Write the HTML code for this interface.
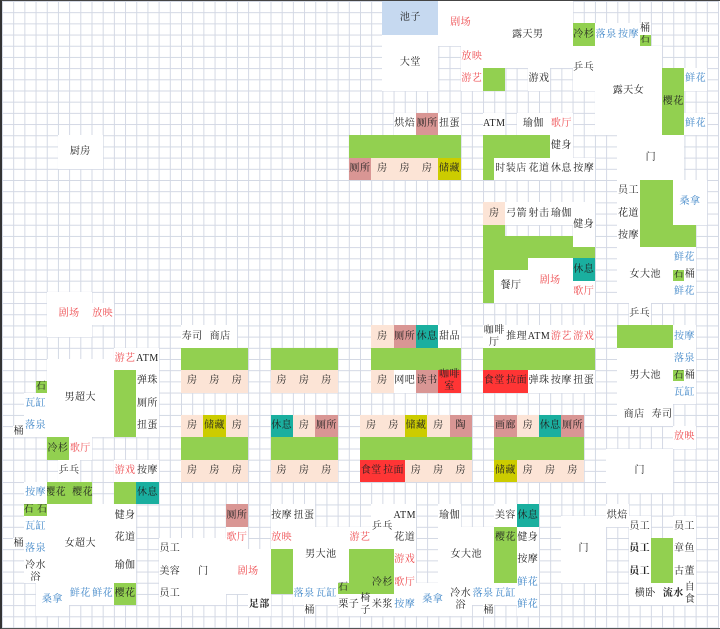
<!DOCTYPE html>
<html><head><meta charset="utf-8">
<style>
html,body{margin:0;padding:0;background:#fff;}
body{width:720px;height:629px;position:relative;overflow:hidden;}
.frame{position:absolute;left:0;top:0;width:718px;height:627px;border-top:1px solid #444;border-left:2px solid #333;border-bottom:1px solid #555;}
.g{position:absolute;left:2px;top:1px;width:716.8px;height:627.2px;display:grid;
grid-template-columns:repeat(64,11.2px);grid-template-rows:repeat(56,11.2px);
background-image:linear-gradient(to right,#d3d8e4 1px,transparent 1px),linear-gradient(to bottom,#d3d8e4 1px,transparent 1px);
background-size:11.2px 11.2px;}
.g>div{display:flex;align-items:center;justify-content:center;background:#fff;
font-family:"Liberation Serif","Noto Serif CJK SC",serif;font-size:10px;letter-spacing:0.5px;line-height:12px;color:#222;text-align:center;white-space:nowrap;overflow:visible;}
.g>div.G{background:#92d050}
.g>div.P{background:#fce4d6}
.g>div.R{background:#d99694}
.g>div.Y{background:#cccc00}
.g>div.T{background:#1aaf9f}
.g>div.D{background:#ff3535}
.g>div.B{background:#c6d9f0}
.g>div.t{background:transparent}
.r{color:#ee4b4f!important}
.b{color:#3f86c8!important}
.k{font-weight:bold}
</style></head><body>
<div class="frame"></div>
<div class="g">
<div style="grid-area:4/35/span 5/span 5">大堂</div>
<div class="r" style="grid-area:1/40/span 4/span 4">剧场</div>
<div style="grid-area:1/44/span 6/span 8">露天男</div>
<div style="grid-area:5/54/span 8/span 6">露天女</div>
<div style="grid-area:13/56/span 4/span 6">门</div>
<div style="grid-area:23/56/span 5/span 5">女大池</div>
<div style="grid-area:32/56/span 5/span 5">男大池</div>
<div style="grid-area:41/55/span 4/span 6">门</div>
<div style="grid-area:13/6/span 3/span 4">厨房</div>
<div class="r" style="grid-area:27/5/span 4/span 4">剧场</div>
<div style="grid-area:33/5/span 7/span 6">男超大</div>
<div style="grid-area:46/5/span 7/span 6">女超大</div>
<div style="grid-area:49/17/span 6/span 4">门</div>
<div class="r" style="grid-area:50/21/span 4/span 4">剧场</div>
<div style="grid-area:48/27/span 5/span 5">男大池</div>
<div style="grid-area:48/40/span 5/span 5">女大池</div>
<div style="grid-area:47/51/span 6/span 4">门</div>
<div style="grid-area:25/45/span 3/span 3">餐厅</div>
<div class="r" style="grid-area:24/48/span 4/span 4">剧场</div>
<div style="grid-area:5/52/span 4/span 2">乒乓</div>
<div style="grid-area:46/34/span 4/span 2">乒乓</div>

<div class="B" style="grid-area:1/35/span 3/span 5">池子</div>

<div class="G" style="grid-area:7/44/span 2/span 2"></div>
<div class="G" style="grid-area:3/52/span 2/span 2">冷杉</div>
<div class="G" style="grid-area:4/58/span 1/span 1">石</div>
<div class="G" style="grid-area:7/60/span 6/span 2">樱花</div>
<div class="G" style="grid-area:13/32/span 2/span 10"></div>
<div class="G" style="grid-area:13/44/span 2/span 6"></div>
<div class="G" style="grid-area:15/44/span 2/span 1"></div>
<div class="G" style="grid-area:17/58/span 6/span 3"></div>
<div class="G" style="grid-area:21/61/span 2/span 2"></div>
<div class="G" style="grid-area:21/44/span 1/span 2"></div>
<div class="G" style="grid-area:22/44/span 2/span 10"></div>
<div class="G" style="grid-area:24/44/span 1/span 4"></div>
<div class="G" style="grid-area:25/44/span 3/span 1"></div>
<div class="G" style="grid-area:25/61/span 1/span 1">石</div>
<div class="G" style="grid-area:32/17/span 2/span 6"></div>
<div class="G" style="grid-area:40/17/span 2/span 6"></div>
<div class="G" style="grid-area:32/25/span 2/span 6"></div>
<div class="G" style="grid-area:40/25/span 2/span 6"></div>
<div class="G" style="grid-area:32/34/span 2/span 8"></div>
<div class="G" style="grid-area:32/44/span 2/span 10"></div>
<div class="G" style="grid-area:40/33/span 2/span 10"></div>
<div class="G" style="grid-area:40/45/span 2/span 8"></div>
<div class="G" style="grid-area:30/56/span 2/span 5"></div>
<div class="G" style="grid-area:34/61/span 1/span 1">石</div>
<div class="G" style="grid-area:34/11/span 6/span 2"></div>
<div class="G" style="grid-area:35/4/span 1/span 1">石</div>
<div class="G" style="grid-area:40/5/span 2/span 2">冷杉</div>
<div class="G" style="grid-area:44/5/span 2/span 4">樱花&nbsp;&nbsp;樱花</div>
<div class="G" style="grid-area:44/11/span 2/span 2"></div>
<div class="G" style="grid-area:46/3/span 1/span 2">石 石</div>
<div class="G" style="grid-area:53/11/span 2/span 2">樱花</div>
<div class="G" style="grid-area:50/25/span 4/span 2"></div>
<div class="G" style="grid-area:50/32/span 4/span 4"></div>
<div class="G" style="grid-area:53/31/span 1/span 1">石</div>
<div class="G" style="grid-area:48/45/span 5/span 2"></div>
<div class="G" style="grid-area:49/59/span 4/span 2"></div>
<div class="t" style="grid-area:52/34/span 2/span 2">冷杉</div>
<div class="t" style="grid-area:48/45/span 2/span 2">樱花</div>

<div class="R" style="grid-area:15/32/span 2/span 2">厕所</div>
<div class="P" style="grid-area:15/34/span 2/span 2">房</div>
<div class="P" style="grid-area:15/36/span 2/span 2">房</div>
<div class="P" style="grid-area:15/38/span 2/span 2">房</div>
<div class="Y" style="grid-area:15/40/span 2/span 2">储藏</div>

<div class="P" style="grid-area:34/17/span 2/span 2">房</div>
<div class="P" style="grid-area:34/19/span 2/span 2">房</div>
<div class="P" style="grid-area:34/21/span 2/span 2">房</div>
<div class="P" style="grid-area:38/17/span 2/span 2">房</div>
<div class="Y" style="grid-area:38/19/span 2/span 2">储藏</div>
<div class="P" style="grid-area:38/21/span 2/span 2">房</div>
<div class="P" style="grid-area:42/17/span 2/span 2">房</div>
<div class="P" style="grid-area:42/19/span 2/span 2">房</div>
<div class="P" style="grid-area:42/21/span 2/span 2">房</div>

<div class="P" style="grid-area:34/25/span 2/span 2">房</div>
<div class="P" style="grid-area:34/27/span 2/span 2">房</div>
<div class="P" style="grid-area:34/29/span 2/span 2">房</div>
<div class="T" style="grid-area:38/25/span 2/span 2">休息</div>
<div class="P" style="grid-area:38/27/span 2/span 2">房</div>
<div class="R" style="grid-area:38/29/span 2/span 2">厕所</div>
<div class="P" style="grid-area:42/25/span 2/span 2">房</div>
<div class="P" style="grid-area:42/27/span 2/span 2">房</div>
<div class="P" style="grid-area:42/29/span 2/span 2">房</div>

<div class="P" style="grid-area:30/34/span 2/span 2">房</div>
<div class="R" style="grid-area:30/36/span 2/span 2">厕所</div>
<div class="T" style="grid-area:30/38/span 2/span 2">休息</div>
<div style="grid-area:30/40/span 2/span 2">甜品</div>
<div class="P" style="grid-area:34/34/span 2/span 2">房</div>
<div style="grid-area:34/36/span 2/span 2">网吧</div>
<div class="R" style="grid-area:34/38/span 2/span 2">读书</div>
<div class="D" style="grid-area:34/40/span 2/span 2">咖啡<br>室</div>

<div style="grid-area:30/44/span 2/span 2">咖啡<br>厅</div>
<div style="grid-area:30/46/span 2/span 2">推理</div>
<div style="grid-area:30/48/span 2/span 2">ATM</div>
<div class="r" style="grid-area:30/50/span 2/span 2">游艺</div>
<div class="r" style="grid-area:30/52/span 2/span 2">游戏</div>
<div class="D" style="grid-area:34/44/span 2/span 2">食堂</div>
<div class="D" style="grid-area:34/46/span 2/span 2">拉面</div>
<div style="grid-area:34/48/span 2/span 2">弹珠</div>
<div style="grid-area:34/50/span 2/span 2">按摩</div>
<div style="grid-area:34/52/span 2/span 2">扭蛋</div>

<div class="P" style="grid-area:38/33/span 2/span 2">房</div>
<div class="P" style="grid-area:38/35/span 2/span 2">房</div>
<div class="Y" style="grid-area:38/37/span 2/span 2">储藏</div>
<div class="P" style="grid-area:38/39/span 2/span 2">房</div>
<div class="R" style="grid-area:38/41/span 2/span 2">陶</div>
<div class="D" style="grid-area:42/33/span 2/span 2">食堂</div>
<div class="D" style="grid-area:42/35/span 2/span 2">拉面</div>
<div class="P" style="grid-area:42/37/span 2/span 2">房</div>
<div class="P" style="grid-area:42/39/span 2/span 2">房</div>
<div class="P" style="grid-area:42/41/span 2/span 2">房</div>

<div class="R" style="grid-area:38/45/span 2/span 2">画廊</div>
<div class="P" style="grid-area:38/47/span 2/span 2">房</div>
<div class="T" style="grid-area:38/49/span 2/span 2">休息</div>
<div class="R" style="grid-area:38/51/span 2/span 2">厕所</div>
<div class="Y" style="grid-area:42/45/span 2/span 2">储藏</div>
<div class="P" style="grid-area:42/47/span 2/span 2">房</div>
<div class="P" style="grid-area:42/49/span 2/span 2">房</div>
<div class="P" style="grid-area:42/51/span 2/span 2">房</div>

<div class="R" style="grid-area:11/38/span 2/span 2">厕所</div>
<div class="R" style="grid-area:46/21/span 2/span 2">厕所</div>
<div class="P" style="grid-area:19/44/span 2/span 2">房</div>
<div class="T" style="grid-area:24/52/span 2/span 2">休息</div>
<div class="T" style="grid-area:44/13/span 2/span 2">休息</div>
<div class="T" style="grid-area:46/47/span 2/span 2">休息</div>

<div class="r" style="grid-area:5/42/span 2/span 2">放映</div>
<div class="r" style="grid-area:7/42/span 2/span 2">游艺</div>
<div style="grid-area:7/48/span 2/span 2">游戏</div>
<div class="b" style="grid-area:3/54/span 2/span 2">落泉</div>
<div class="b" style="grid-area:3/56/span 2/span 2">按摩</div>
<div style="grid-area:3/58/span 1/span 1">桶</div>
<div style="grid-area:11/36/span 2/span 2">烘焙</div>
<div style="grid-area:11/40/span 2/span 2">扭蛋</div>
<div style="grid-area:11/44/span 2/span 2">ATM</div>
<div style="grid-area:11/47/span 2/span 3">瑜伽</div>
<div class="r" style="grid-area:11/50/span 2/span 2">歌厅</div>
<div style="grid-area:13/50/span 2/span 2">健身</div>
<div style="grid-area:15/45/span 2/span 3">时装店</div>
<div style="grid-area:15/48/span 2/span 2">花道</div>
<div style="grid-area:15/50/span 2/span 2">休息</div>
<div style="grid-area:15/52/span 2/span 2">按摩</div>
<div class="b" style="grid-area:7/62/span 2/span 2">鲜花</div>
<div class="b" style="grid-area:11/62/span 2/span 2">鲜花</div>
<div style="grid-area:17/56/span 2/span 2">员工</div>
<div style="grid-area:19/56/span 2/span 2">花道</div>
<div style="grid-area:21/56/span 2/span 2">按摩</div>
<div class="b" style="grid-area:17/61/span 4/span 3">桑拿</div>
<div class="b" style="grid-area:23/61/span 2/span 2">鲜花</div>
<div style="grid-area:25/62/span 1/span 1">桶</div>
<div class="b" style="grid-area:26/61/span 2/span 2">鲜花</div>
<div style="grid-area:28/57/span 2/span 2">乒乓</div>
<div style="grid-area:19/46/span 2/span 2">弓箭</div>
<div style="grid-area:19/48/span 2/span 2">射击</div>
<div style="grid-area:19/50/span 2/span 2">瑜伽</div>
<div style="grid-area:19/52/span 4/span 2">健身</div>
<div class="r" style="grid-area:26/52/span 2/span 2">歌厅</div>
<div class="b" style="grid-area:30/61/span 2/span 2">按摩</div>
<div class="b" style="grid-area:32/61/span 2/span 2">落泉</div>
<div style="grid-area:34/62/span 1/span 1">桶</div>
<div class="b" style="grid-area:35/61/span 2/span 2">瓦缸</div>
<div style="grid-area:37/56/span 2/span 3">商店</div>
<div style="grid-area:37/59/span 2/span 2">寿司</div>
<div class="r" style="grid-area:39/61/span 2/span 2">放映</div>

<div class="r" style="grid-area:28/9/span 2/span 2">放映</div>
<div style="grid-area:30/17/span 2/span 2">寿司</div>
<div style="grid-area:30/19/span 2/span 3">商店</div>
<div class="r" style="grid-area:32/11/span 2/span 2">游艺</div>
<div style="grid-area:32/13/span 2/span 2">ATM</div>
<div style="grid-area:34/13/span 2/span 2">弹珠</div>
<div style="grid-area:36/13/span 2/span 2">厕所</div>
<div style="grid-area:38/13/span 2/span 2">扭蛋</div>
<div class="b" style="grid-area:36/3/span 2/span 2">瓦缸</div>
<div class="b" style="grid-area:38/3/span 2/span 2">落泉</div>
<div style="grid-area:39/2/span 1/span 1">桶</div>
<div class="r" style="grid-area:40/7/span 2/span 2">歌厅</div>
<div style="grid-area:42/6/span 2/span 2">乒乓</div>
<div class="r" style="grid-area:42/11/span 2/span 2">游戏</div>
<div style="grid-area:42/13/span 2/span 2">按摩</div>
<div class="b" style="grid-area:44/3/span 2/span 2">按摩</div>
<div class="b" style="grid-area:47/3/span 2/span 2">瓦缸</div>
<div style="grid-area:49/2/span 1/span 1">桶</div>
<div class="b" style="grid-area:49/3/span 2/span 2">落泉</div>
<div style="grid-area:51/3/span 2/span 2">冷水<br>浴</div>
<div class="b" style="grid-area:53/4/span 3/span 3">桑拿</div>
<div class="b" style="grid-area:53/7/span 2/span 2">鲜花</div>
<div class="b" style="grid-area:53/9/span 2/span 2">鲜花</div>
<div style="grid-area:46/11/span 2/span 2">健身</div>
<div style="grid-area:48/11/span 2/span 2">花道</div>
<div style="grid-area:50/11/span 3/span 2">瑜伽</div>
<div style="grid-area:49/15/span 2/span 2">员工</div>
<div style="grid-area:51/15/span 2/span 2">美容</div>
<div style="grid-area:53/15/span 2/span 2">员工</div>
<div style="grid-area:46/25/span 2/span 2">按摩</div>
<div style="grid-area:46/27/span 2/span 2">扭蛋</div>
<div class="r" style="grid-area:48/21/span 2/span 2">歌厅</div>
<div class="r" style="grid-area:48/25/span 2/span 2">放映</div>
<div class="b" style="grid-area:53/27/span 2/span 2">落泉</div>
<div class="b" style="grid-area:53/29/span 2/span 2">瓦缸</div>
<div style="grid-area:55/28/span 1/span 1">桶</div>
<div class="k" style="grid-area:54/23/span 2/span 2">足部</div>
<div class="r" style="grid-area:48/32/span 2/span 2">游艺</div>
<div style="grid-area:46/36/span 2/span 2">ATM</div>
<div style="grid-area:48/36/span 2/span 2">花道</div>
<div class="r" style="grid-area:50/36/span 2/span 2">游戏</div>
<div class="r" style="grid-area:52/36/span 2/span 2">歌厅</div>
<div class="b" style="grid-area:54/36/span 2/span 2">按摩</div>
<div style="grid-area:54/31/span 2/span 2">栗子</div>
<div style="grid-area:54/33/span 2/span 1">椅<br>子</div>
<div style="grid-area:54/34/span 2/span 2">米浆</div>
<div style="grid-area:46/40/span 2/span 2">瑜伽</div>
<div style="grid-area:46/45/span 2/span 2">美容</div>
<div style="grid-area:48/47/span 2/span 2">健身</div>
<div style="grid-area:50/47/span 2/span 2">按摩</div>
<div class="b" style="grid-area:52/47/span 2/span 2">鲜花</div>
<div class="b" style="grid-area:54/47/span 2/span 2">鲜花</div>
<div class="b" style="grid-area:53/38/span 3/span 3">桑拿</div>
<div style="grid-area:53/41/span 3/span 2">冷水<br>浴</div>
<div class="b" style="grid-area:53/43/span 2/span 2">落泉</div>
<div class="b" style="grid-area:53/45/span 2/span 2">瓦缸</div>
<div style="grid-area:55/44/span 1/span 1">桶</div>
<div style="grid-area:46/55/span 2/span 2">烘焙</div>
<div style="grid-area:47/57/span 2/span 2">员工</div>
<div class="k" style="grid-area:49/57/span 2/span 2">员工</div>
<div class="k" style="grid-area:51/57/span 2/span 2">员工</div>
<div style="grid-area:47/61/span 2/span 2">员工</div>
<div style="grid-area:49/61/span 2/span 2">章鱼</div>
<div style="grid-area:51/61/span 2/span 2">古董</div>
<div style="grid-area:53/57/span 2/span 3">横卧</div>
<div class="k" style="grid-area:53/60/span 2/span 2">流水</div>
<div style="grid-area:53/62/span 2/span 1">自<br>食</div>
</div>
</body></html>
